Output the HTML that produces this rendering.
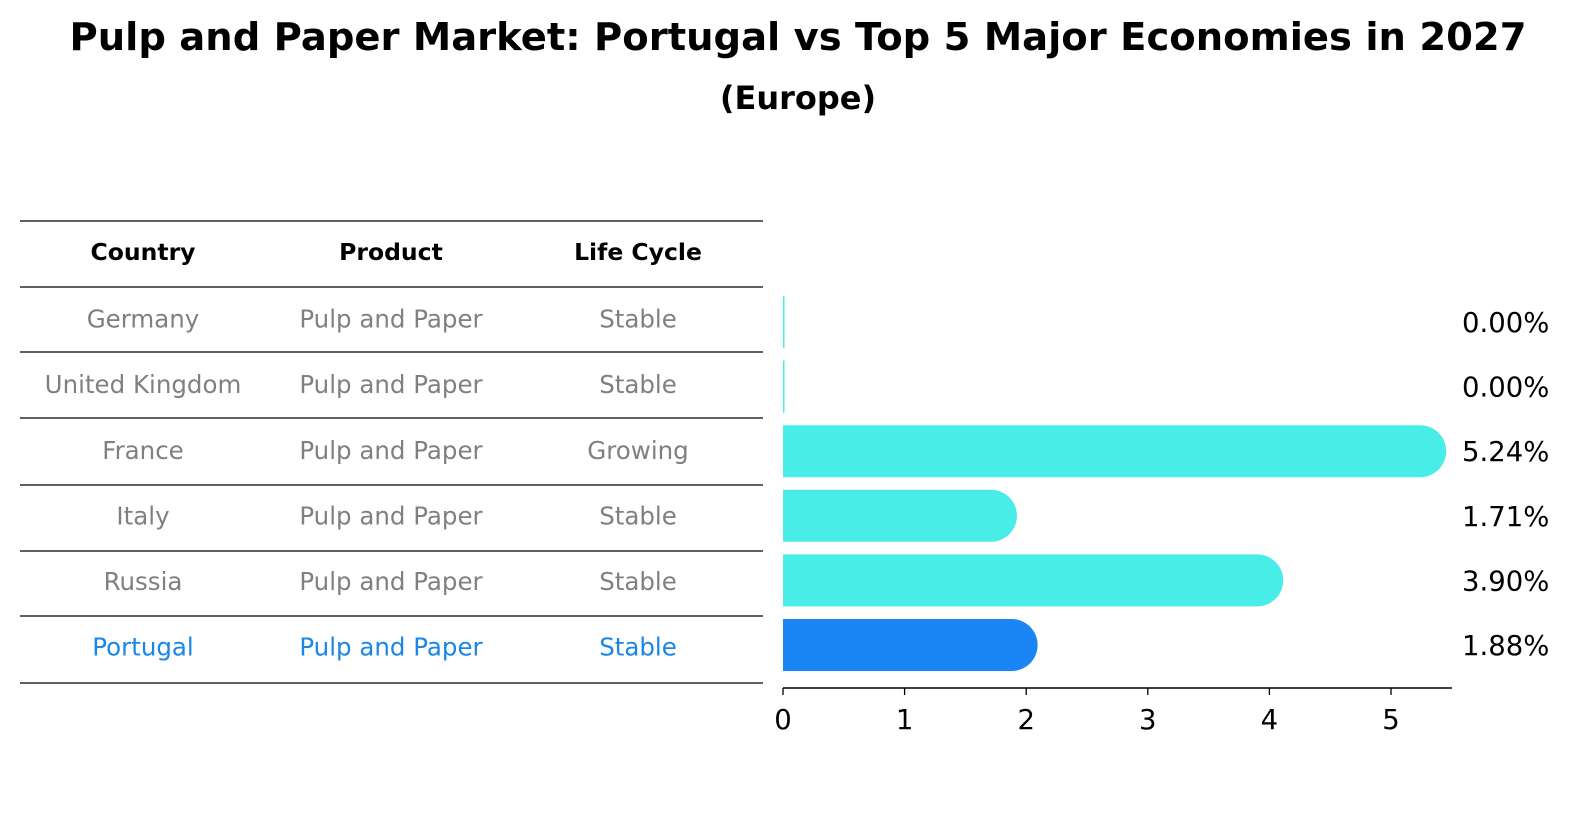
<!DOCTYPE html>
<html><head><meta charset="utf-8"><style>
html,body{margin:0;padding:0;overflow:hidden;background:#fff;width:1586px;height:823px;font-family:"DejaVu Sans","Liberation Sans",sans-serif;}
svg{display:block;}
</style></head><body>
<svg width="1586" height="823" xmlns="http://www.w3.org/2000/svg" font-family="DejaVu Sans, Liberation Sans, sans-serif">
<text x="798" y="50" text-anchor="middle" font-size="38.5" font-weight="bold">Pulp and Paper Market: Portugal vs Top 5 Major Economies in 2027</text>
<text x="798" y="109" text-anchor="middle" font-size="32" font-weight="bold">(Europe)</text>
<g id="table"></g>
<g id="bars"></g>
</svg>
<script>
const countries=["Germany","United Kingdom","France","Italy","Russia","Portugal"];
const products=["Pulp and Paper","Pulp and Paper","Pulp and Paper","Pulp and Paper","Pulp and Paper","Pulp and Paper"];
const lifeCycles=["Stable","Stable","Growing","Stable","Stable","Stable"];
const values=[0.00,0.00,5.24,1.71,3.90,1.88];
const tickLabels=[0,1,2,3,4,5];
const NS="http://www.w3.org/2000/svg";
function mk(tag,attrs,parent){const e=document.createElementNS(NS,tag);for(const k in attrs)e.setAttribute(k,attrs[k]);parent.appendChild(e);return e;}
const tbl=document.getElementById('table');
const lineYs=[221,287,352,418,485,551,616,683];
lineYs.forEach(y=>{const l=mk('line',{x1:20,x2:763,y1:y,y2:y,stroke:'#000','stroke-width':1.2},tbl);

});
const cx=[143,391,638];
["Country","Product","Life Cycle"].forEach((h,i)=>{const t=mk('text',{x:cx[i],y:260,'text-anchor':'middle','font-size':23.5,'font-weight':'bold'},tbl);t.textContent=h;

});
const rowY=i=>254+(i+1)*65.6;
countries.forEach((c,i)=>{const col=c==="Portugal"?"#1a86e8":"#808080";
[c,products[i],lifeCycles[i]].forEach((v,j)=>{const t=mk('text',{x:cx[j],y:rowY(i)+8,'text-anchor':'middle','font-size':24.5,fill:col},tbl);t.textContent=v;

});});
const g=document.getElementById('bars');
const x0=783,ppu=121.6;const xs=v=>x0+v*ppu;
const yc=i=>322+i*64.6;const h=52,r=26;
values.forEach((v,i)=>{const col=countries[i]==="Portugal"?"#1a86f5":"#48ede8";
const xe=xs(v);let d;
if(v<=0){d=`M${x0} ${yc(i)-r}h1.5v${h}h-1.5z`;}
else d=`M${x0} ${yc(i)-r}H${xe}A${r} ${r} 0 0 1 ${xe} ${yc(i)+r}H${x0}Z`;
const p=mk('path',{d:d,fill:col},g);


const t=mk('text',{x:1462,y:yc(i)+10,'font-size':27.5},g);t.textContent=v.toFixed(2)+'%';

});
const ax=mk('line',{x1:x0,x2:1452,y1:688,y2:688,stroke:'#000','stroke-width':1.5},g);


tickLabels.forEach(v=>{const tk=mk('line',{x1:xs(v),x2:xs(v),y1:688,y2:695,stroke:'#000','stroke-width':1.3},g);


const t=mk('text',{x:xs(v),y:729,'text-anchor':'middle','font-size':27.5},g);t.textContent=v;

});
</script>
</body></html>
